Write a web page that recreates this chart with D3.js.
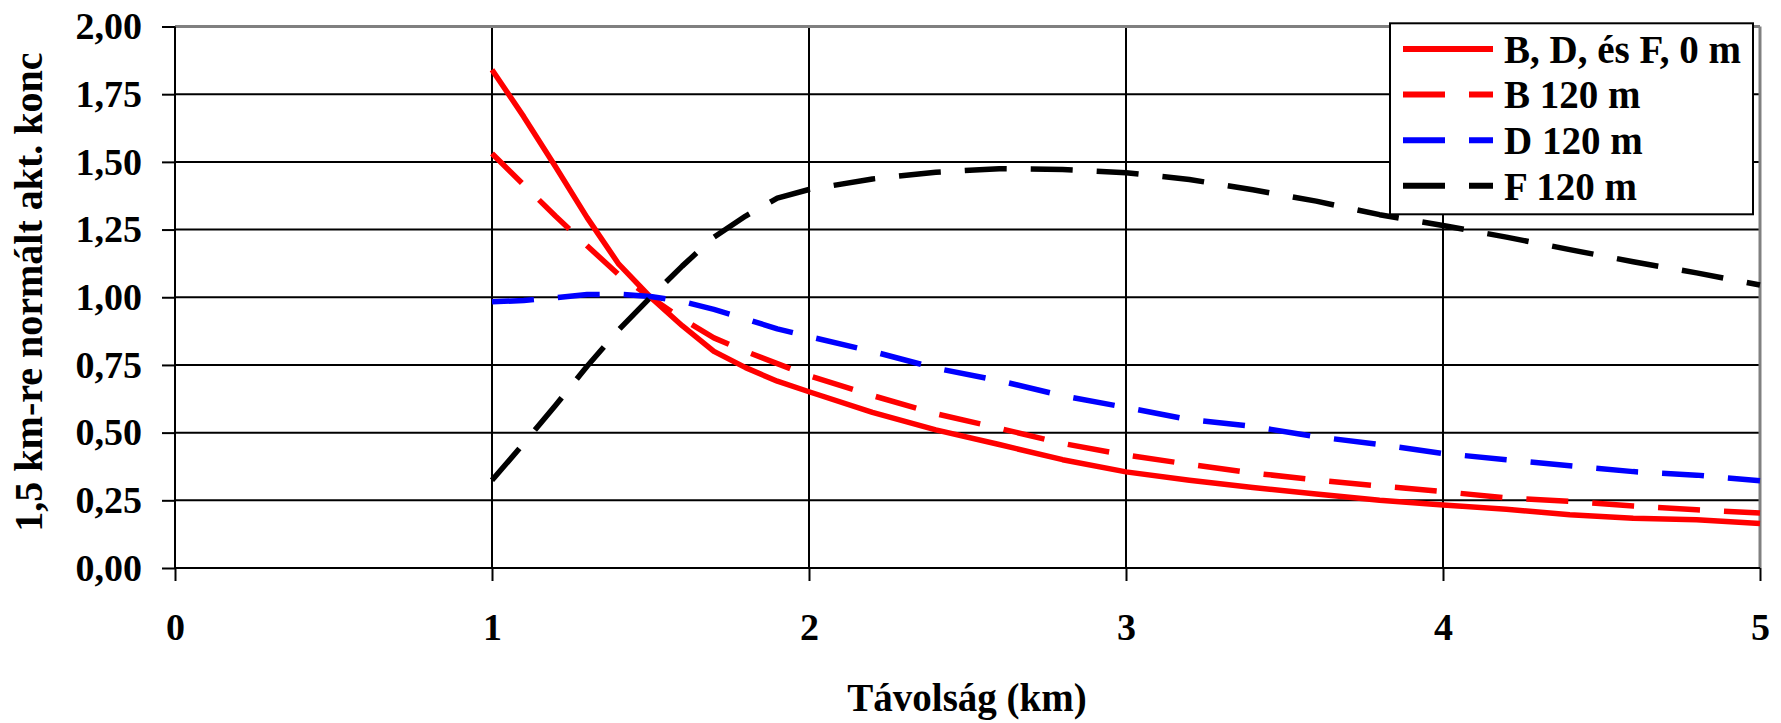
<!DOCTYPE html>
<html>
<head>
<meta charset="utf-8">
<script src="https://cdn.jsdelivr.net/npm/d3@7"></script>
<style>
  body { margin: 0; background: #fff; }
  svg text { font-family: "Liberation Serif", "Times New Roman", serif; font-weight: bold; fill: #000; }
</style>
</head>
<body>
<svg width="1781" height="723"></svg>
<script>
// távolság (km)
const distances = [1.0, 1.1, 1.2, 1.3, 1.4, 1.5, 1.6, 1.7, 1.8, 1.9, 2.0, 2.2, 2.4, 2.6, 2.8,
                   3.0, 3.2, 3.4, 3.6, 3.8, 4.0, 4.2, 4.4, 4.6, 4.8, 5.0];

const conc0m   = [1.840, 1.667, 1.483, 1.294, 1.122, 1.000, 0.895, 0.800, 0.740, 0.690, 0.651, 0.575, 0.510,
                  0.456, 0.400, 0.355, 0.324, 0.297, 0.273, 0.250, 0.233, 0.217, 0.197, 0.184, 0.178, 0.164];
const concB120 = [1.531, 1.415, 1.300, 1.190, 1.083, 1.000, 0.920, 0.850, 0.800, 0.755, 0.710, 0.637, 0.570,
                  0.516, 0.460, 0.417, 0.383, 0.351, 0.325, 0.303, 0.282, 0.259, 0.246, 0.229, 0.215, 0.203];
const concD120 = [0.983, 0.988, 0.998, 1.010, 1.011, 1.003, 0.985, 0.955, 0.920, 0.883, 0.855, 0.800, 0.738,
                  0.692, 0.636, 0.593, 0.548, 0.523, 0.485, 0.456, 0.423, 0.400, 0.378, 0.356, 0.343, 0.322];
const concF120 = [0.324, 0.460, 0.600, 0.745, 0.880, 1.000, 1.115, 1.222, 1.300, 1.366, 1.398, 1.437, 1.462,
                  1.475, 1.472, 1.460, 1.435, 1.397, 1.355, 1.305, 1.265, 1.222, 1.176, 1.131, 1.090, 1.045];

const seriesNames = ["B, D, és F, 0 m", "B 120 m", "D 120 m", "F 120 m"];
const xTicks = [0, 1, 2, 3, 4, 5];
const yTicks = [0, 0.25, 0.5, 0.75, 1, 1.25, 1.5, 1.75, 2];

const svg = d3.select("svg");

const x = d3.scaleLinear().domain([0, 5]).range([175, 1760]);
const y = d3.scaleLinear().domain([0, 2]).range([568, 26.5]);

const series = [
  { name: seriesNames[0], values: conc0m,   color: "#ff0000", dash: null },
  { name: seriesNames[1], values: concB120, color: "#ff0000", dash: "42,24" },
  { name: seriesNames[2], values: concD120, color: "#0000ff", dash: "42,24" },
  { name: seriesNames[3], values: concF120, color: "#000000", dash: "42,24" }
];

const fmt = d => d.toFixed(2).replace(".", ",");

// rács
const grid = svg.append("g").attr("class", "grid");
grid.selectAll("line.h")
  .data(yTicks.filter(d => d > 0 && d < 2))
  .enter().append("line")
  .attr("x1", x(0)).attr("x2", x(5))
  .attr("y1", d => y(d)).attr("y2", d => y(d))
  .attr("stroke", "#000").attr("stroke-width", 2);

grid.selectAll("line.v")
  .data(xTicks.filter(d => d > 0 && d < 5))
  .enter().append("line")
  .attr("x1", d => x(d)).attr("x2", d => x(d))
  .attr("y1", y(2)).attr("y2", y(0))
  .attr("stroke", "#000").attr("stroke-width", 2);

// felső és jobb keret szürkén
grid.append("line")
  .attr("x1", x(0)).attr("x2", x(5)).attr("y1", y(2)).attr("y2", y(2))
  .attr("stroke", "#808080").attr("stroke-width", 3);
grid.append("line")
  .attr("x1", x(5)).attr("x2", x(5)).attr("y1", y(2)).attr("y2", y(0))
  .attr("stroke", "#808080").attr("stroke-width", 3);

// görbék
const line = d3.line()
  .x((d, i) => x(distances[i]))
  .y(d => y(d));

svg.append("g").selectAll("path")
  .data(series)
  .enter().append("path")
  .attr("d", d => line(d.values))
  .attr("fill", "none")
  .attr("stroke", d => d.color)
  .attr("stroke-width", 5.5)
  .attr("stroke-linecap", "butt")
  .attr("stroke-linejoin", "round")
  .attr("stroke-dasharray", d => d.dash);

// tengelyek
const yAxis = svg.append("g")
  .attr("transform", `translate(${x(0)},0)`)
  .call(d3.axisLeft(y).tickValues(yTicks).tickSize(13).tickPadding(20).tickFormat(fmt));

const xAxis = svg.append("g")
  .attr("transform", `translate(0,${y(0)})`)
  .call(d3.axisBottom(x).tickValues(xTicks).tickSize(13).tickPadding(0).tickFormat(d3.format("d")));

[yAxis, xAxis].forEach(a => {
  a.select(".domain").remove();
  a.selectAll(".tick line").attr("stroke", "#000").attr("stroke-width", 2);
  a.selectAll("text").style("font-size", "38px").attr("fill", "#000");
});
xAxis.selectAll("text").attr("y", 72).attr("dy", null);

svg.append("line")
  .attr("x1", x(0)).attr("x2", x(0)).attr("y1", y(2)).attr("y2", y(0))
  .attr("stroke", "#000").attr("stroke-width", 2);
svg.append("line")
  .attr("x1", x(0)).attr("x2", x(5)).attr("y1", y(0)).attr("y2", y(0))
  .attr("stroke", "#000").attr("stroke-width", 2);

// tengelycímek
svg.append("text")
  .attr("x", 967).attr("y", 711)
  .attr("text-anchor", "middle")
  .style("font-size", "39px")
  .text("Távolság (km)");

svg.append("text")
  .attr("transform", "translate(41.5,292) rotate(-90)")
  .attr("text-anchor", "middle")
  .style("font-size", "40px")
  .text("1,5 km-re normált akt. konc");

// jelmagyarázat
const legend = svg.append("g").attr("transform", "translate(1390,23.3)");
legend.append("rect")
  .attr("width", 363).attr("height", 191)
  .attr("fill", "#fff").attr("stroke", "#000").attr("stroke-width", 2);

const item = legend.selectAll("g.item")
  .data(series)
  .enter().append("g")
  .attr("class", "item")
  .attr("transform", (d, i) => `translate(0,${25.7 + i * 45.6})`);

item.append("line")
  .attr("x1", 13).attr("x2", 103)
  .attr("stroke", d => d.color)
  .attr("stroke-width", 6)
  .attr("stroke-dasharray", d => d.dash);

item.append("text")
  .attr("x", 114).attr("y", 13.7)
  .style("font-size", "39px")
  .text(d => d.name);
</script>
</body>
</html>
